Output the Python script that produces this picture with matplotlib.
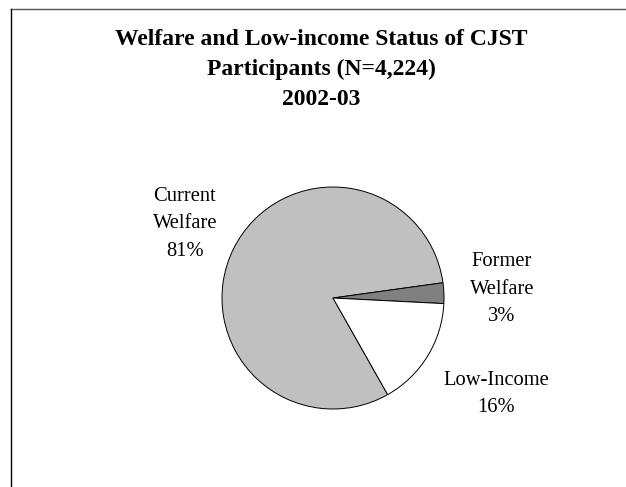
import matplotlib
matplotlib.use("Agg")
import matplotlib.pyplot as plt
from matplotlib.lines import Line2D

plt.rcParams['font.family'] = ['Liberation Serif', 'DejaVu Serif']

W, H = 626, 487

# participant status shares (percent), drawn clockwise
names = [["Current", "Welfare"], ["Former", "Welfare"], ["Low-Income"]]
shares = [81, 3, 16]
colors = ["#C0C0C0", "#808080", "#FFFFFF"]

title_lines = ["Welfare and Low-income Status of CJST",
               "Participants (N=4,224)",
               "2002-03"]

fig = plt.figure(figsize=(W / 100, H / 100), dpi=100)
ax = fig.add_axes([0, 0, 1, 1])

ax.pie(shares, colors=colors, startangle=-60.5, counterclock=False,
       center=(333, H - 298), radius=111,
       wedgeprops=dict(edgecolor="black", linewidth=0.7))

# pie() sets its own limits, so work in pixel units afterwards
ax.set_xlim(0, W)
ax.set_ylim(0, H)
ax.set_aspect("equal")
ax.axis("off")

# title, one line at a time
for i, line in enumerate(title_lines):
    ax.text(321.5, H - (45 + 30 * i), line, ha="center", va="baseline",
            fontsize=17, fontweight="bold")

# slice labels: name lines followed by the percentage
label_pos = [(185, 201), (502, 266), (496, 385)]
for (x, y), name, v in zip(label_pos, names, shares):
    lines = name + ["%d%%" % v]
    for j, line in enumerate(lines):
        ax.text(x, H - (y + 27.5 * j), line, ha="center", va="baseline",
                fontsize=14.8)

# chart border (top and left edges visible)
fig.add_artist(Line2D([10.7 / W, 1], [1 - 9 / H, 1 - 9 / H],
                      transform=fig.transFigure, color="#555555", lw=1.0))
fig.add_artist(Line2D([10.7 / W, 10.7 / W], [0, 1 - 9 / H],
                      transform=fig.transFigure, color="black", lw=1.0))

fig.savefig("out.png", dpi=100, facecolor="white")
